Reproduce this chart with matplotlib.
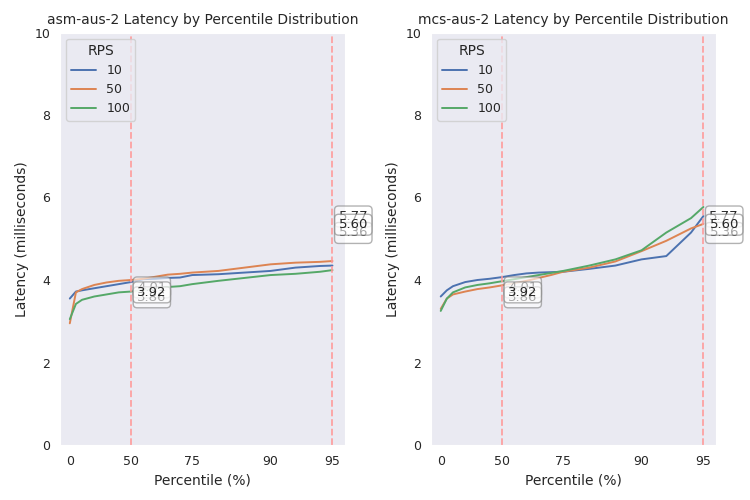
import matplotlib
matplotlib.use("Agg")
import matplotlib.pyplot as plt
import seaborn as sns
import numpy as np

sns.set_style("dark")

# percentiles and latencies (ms)
percentiles = [0, 5, 10, 20, 30, 40, 50, 55, 60, 65, 70, 75, 80, 85, 90, 92, 94, 95]
rps_levels = ["10", "50", "100"]

asm_10 = [3.55, 3.72, 3.75, 3.80, 3.85, 3.90, 3.95, 4.02, 4.03, 4.05, 4.06, 4.12, 4.14, 4.18, 4.22, 4.30, 4.34, 4.35]
asm_50 = [2.95, 3.70, 3.78, 3.88, 3.94, 3.98, 4.00, 4.03, 4.08, 4.13, 4.15, 4.18, 4.22, 4.30, 4.38, 4.42, 4.44, 4.46]
asm_100 = [3.05, 3.42, 3.52, 3.60, 3.65, 3.70, 3.72, 3.76, 3.80, 3.83, 3.85, 3.90, 3.98, 4.05, 4.12, 4.15, 4.20, 4.24]

mcs_10 = [3.60, 3.75, 3.85, 3.95, 4.00, 4.03, 4.07, 4.12, 4.16, 4.18, 4.19, 4.20, 4.27, 4.35, 4.50, 4.58, 5.15, 5.55]
mcs_50 = [3.30, 3.55, 3.65, 3.72, 3.78, 3.82, 3.87, 3.92, 3.98, 4.05, 4.12, 4.20, 4.30, 4.45, 4.70, 4.95, 5.25, 5.36]
mcs_100 = [3.25, 3.55, 3.70, 3.82, 3.88, 3.92, 3.97, 4.02, 4.07, 4.12, 4.17, 4.22, 4.35, 4.50, 4.72, 5.15, 5.50, 5.77]

tick_pcts = [0, 50, 75, 90, 95]
tick_pos = [0, 1, 2, 3.28, 4.29]

# annotation values shown at p50 and p95 (drawn in this order)
p50_labels = [4.01, 3.86, 3.92]
p95_labels = [5.77, 5.36, 5.60]

def to_pos(p):
    return np.interp(p, tick_pcts, tick_pos)

colors = ["#4c72b0", "#dd8452", "#55a868"]
panels = [("asm-aus-2", [asm_10, asm_50, asm_100]),
          ("mcs-aus-2", [mcs_10, mcs_50, mcs_100])]

fig, axes = plt.subplots(1, 2, figsize=(7.5, 5), dpi=100)
for ax, (name, series) in zip(axes, panels):
    for lab, vals, c in zip(rps_levels, series, colors):
        ax.plot(to_pos(percentiles), vals, color=c, lw=1.4, label=lab)
    for p, labels, base, step in [(50, p50_labels, 3.70, 0.12), (95, p95_labels, 5.34, 0.2)]:
        x = to_pos(p)
        ax.axvline(x, color="#ff9999", ls="--", lw=1.3, alpha=0.9)
        ranked = sorted(labels, reverse=True)
        for v in labels:
            y = base + step * (1 - ranked.index(v))
            ax.annotate(f"{v:.2f}", xy=(x, y), xytext=(15, 0),
                        textcoords="offset points", ha="center", va="center",
                        fontsize=9.5, annotation_clip=False,
                        bbox=dict(boxstyle="round,pad=0.3", fc="white", ec="gray", alpha=0.6))
    ax.set_xticks(tick_pos)
    ax.set_xticklabels([str(t) for t in tick_pcts])
    ax.set_xlim(-0.16, 4.5)
    ax.set_ylim(0, 10)
    ax.set_title(f"{name} Latency by Percentile Distribution", fontsize=10)
    ax.set_xlabel("Percentile (%)")
    ax.set_ylabel("Latency (milliseconds)")
    ax.tick_params(labelsize=9)
    ax.legend(title="RPS", loc="upper left", fontsize=9)

plt.subplots_adjust(left=0.08, right=0.955, top=0.935, bottom=0.11, wspace=0.3)
plt.savefig("out.png")
